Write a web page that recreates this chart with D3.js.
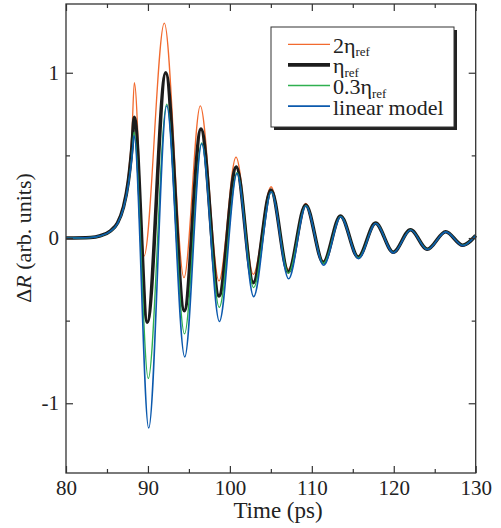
<!DOCTYPE html>
<html>
<head>
<meta charset="utf-8">
<script src="https://cdn.jsdelivr.net/npm/d3@7/dist/d3.min.js"></script>
<style>
  body { margin: 0; background: #fff; }
  svg text { font-family: "Liberation Serif", "Times New Roman", serif; fill: #222; }
</style>
</head>
<body>
<script>
var width = 501,
    height = 528;

// series: [time (ps), dR]
var eta2 = [
  [80,0],[83,0.003],[84.2,0.016],[85.4,0.046],[86.3,0.1],[87.0,0.2],[87.6,0.38],[88.05,0.64],[88.34,0.94],
  [89.52,-0.11],[92.0,1.30],[94.40,-0.24],[96.39,0.80],[98.67,-0.26],[100.75,0.49],[102.86,-0.22],
  [105.02,0.31],[107.13,-0.19],[109.25,0.21],[111.4,-0.14],[113.5,0.136],[115.67,-0.112],[117.77,0.092],
  [119.94,-0.085],[122.04,0.052],[124.09,-0.066],[126.34,0.04],[128.41,-0.043],[130,0.016]
];
var eta1 = [
  [80,0],[83,0.003],[84.2,0.014],[85.4,0.042],[86.3,0.092],[87.0,0.185],[87.6,0.34],[88.05,0.55],[88.34,0.73],
  [89.92,-0.51],[92.17,1.0],[94.44,-0.44],[96.47,0.66],[98.67,-0.35],[100.78,0.43],[102.86,-0.27],
  [105.02,0.29],[107.13,-0.205],[109.25,0.20],[111.4,-0.148],[113.5,0.133],[115.67,-0.116],[117.77,0.09],
  [119.94,-0.086],[122.04,0.05],[124.09,-0.068],[126.34,0.038],[128.41,-0.044],[130,0.015]
];
var eta03 = [
  [80,0],[83,0.003],[84.2,0.013],[85.4,0.04],[86.3,0.088],[87.0,0.178],[87.6,0.32],[88.05,0.5],[88.3,0.64],
  [90.04,-0.85],[92.29,0.81],[94.46,-0.58],[96.56,0.575],[98.7,-0.42],[100.87,0.395],[102.9,-0.30],
  [105.05,0.28],[107.15,-0.213],[109.27,0.196],[111.42,-0.153],[113.52,0.13],[115.69,-0.12],[117.8,0.089],
  [119.96,-0.088],[122.06,0.049],[124.1,-0.069],[126.36,0.037],[128.43,-0.045],[130,0.015]
];
var linear = [
  [80,0],[83,0.003],[84.2,0.013],[85.4,0.04],[86.3,0.088],[87.0,0.178],[87.6,0.32],[88.05,0.49],[88.3,0.62],
  [90.09,-1.15],[92.29,0.80],[94.49,-0.72],[96.56,0.57],[98.72,-0.505],[100.87,0.39],[102.9,-0.355],
  [105.05,0.28],[107.17,-0.247],[109.27,0.194],[111.45,-0.165],[113.52,0.128],[115.7,-0.125],[117.8,0.088],
  [119.96,-0.09],[122.06,0.048],[124.1,-0.07],[126.36,0.037],[128.43,-0.046],[130,0.015]
];

var xMajor = [80, 90, 100, 110, 120, 130],
    xMinor = [85, 95, 105, 115, 125],
    yMajor = [-1, 0, 1],
    yMinor = [-0.5, 0.5];

var series = [
  {name: "2", data: eta2, color: "#f26a2e", w: 1.3},
  {name: "", data: eta1, color: "#1c1c1c", w: 3.6},
  {name: "0.3", data: eta03, color: "#2fb04f", w: 1.3},
  {name: "linear model", data: linear, color: "#0b59ad", w: 1.6}
];

var mLeft = 66, mRight = 475.7, mTop = 4, mBottom = 473;

var x = d3.scaleLinear().domain([80, 130]).range([mLeft, mRight]);
var y = d3.scaleLinear().domain([-1.422, 1.416]).range([mBottom, mTop]);

var svg = d3.select("body").append("svg")
    .attr("width", width)
    .attr("height", height);

// curves
var line = d3.line()
    .x(function(d) { return x(d[0]); })
    .y(function(d) { return y(d[1]); })
    .curve(d3.curveMonotoneX);

series.forEach(function(s) {
  svg.append("path")
    .datum(s.data)
    .attr("d", line)
    .attr("fill", "none")
    .attr("stroke", s.color)
    .attr("stroke-width", s.w)
    .attr("stroke-linejoin", "round");
});

// ticks on all four sides, pointing in
function styleAxis(g) {
  g.select(".domain").remove();
  g.selectAll(".tick line").attr("stroke", "#333").attr("stroke-width", 1.2);
  g.selectAll(".tick text").attr("font-size", 21).attr("fill", "#222")
    .style("font-family", "'Liberation Serif', serif");
}
var fmt = function(d) { return String(d); };

svg.append("g").attr("transform", "translate(0," + mBottom + ")")
  .call(d3.axisBottom(x).tickValues(xMajor).tickSize(-7).tickPadding(7).tickFormat(fmt)).call(styleAxis);
svg.append("g").attr("transform", "translate(0," + mBottom + ")")
  .call(d3.axisBottom(x).tickValues(xMinor).tickSize(-4).tickFormat("")).call(styleAxis);
svg.append("g").attr("transform", "translate(0," + mTop + ")")
  .call(d3.axisTop(x).tickValues(xMajor).tickSize(-7).tickFormat("")).call(styleAxis);
svg.append("g").attr("transform", "translate(0," + mTop + ")")
  .call(d3.axisTop(x).tickValues(xMinor).tickSize(-4).tickFormat("")).call(styleAxis);

svg.append("g").attr("transform", "translate(" + mLeft + ",0)")
  .call(d3.axisLeft(y).tickValues(yMajor).tickSize(-7).tickPadding(7).tickFormat(fmt)).call(styleAxis);
svg.append("g").attr("transform", "translate(" + mLeft + ",0)")
  .call(d3.axisLeft(y).tickValues(yMinor).tickSize(-4).tickFormat("")).call(styleAxis);
svg.append("g").attr("transform", "translate(" + mRight + ",0)")
  .call(d3.axisRight(y).tickValues(yMajor).tickSize(-7).tickFormat("")).call(styleAxis);
svg.append("g").attr("transform", "translate(" + mRight + ",0)")
  .call(d3.axisRight(y).tickValues(yMinor).tickSize(-4).tickFormat("")).call(styleAxis);

svg.append("rect")
  .attr("x", mLeft).attr("y", mTop)
  .attr("width", mRight - mLeft).attr("height", mBottom - mTop)
  .attr("fill", "none").attr("stroke", "#333").attr("stroke-width", 1.3);

// axis titles
svg.append("text")
  .attr("x", 278).attr("y", 518)
  .attr("text-anchor", "middle")
  .attr("font-size", 23)
  .text("Time (ps)");

var ylab = svg.append("text")
  .attr("transform", "translate(31,238) rotate(-90)")
  .attr("text-anchor", "middle")
  .attr("font-size", 22);
ylab.append("tspan").text("\u0394");
ylab.append("tspan").attr("font-style", "italic").text("R");
ylab.append("tspan").text(" (arb. units)");

// legend
var lg = svg.append("g");
lg.append("rect").attr("x", 274).attr("y", 30).attr("width", 183).attr("height", 100).attr("fill", "#222");
lg.append("rect").attr("x", 271).attr("y", 27).attr("width", 183).attr("height", 100)
  .attr("fill", "#fff").attr("stroke", "#333").attr("stroke-width", 1);

series.forEach(function(s, i) {
  var ly = 44.3 + i * 20.6;
  lg.append("line")
    .attr("x1", 288).attr("x2", 330).attr("y1", ly).attr("y2", ly)
    .attr("stroke", s.color).attr("stroke-width", s.w);
  var t = lg.append("text").attr("x", 333).attr("y", ly + 8.5).attr("font-size", 22);
  if (i < 3) {
    t.append("tspan").text(s.name + "\u03b7");
    t.append("tspan").attr("font-size", 13).attr("dy", 3.5).text("ref");
  } else {
    t.text(s.name);
  }
});
</script>
</body>
</html>
